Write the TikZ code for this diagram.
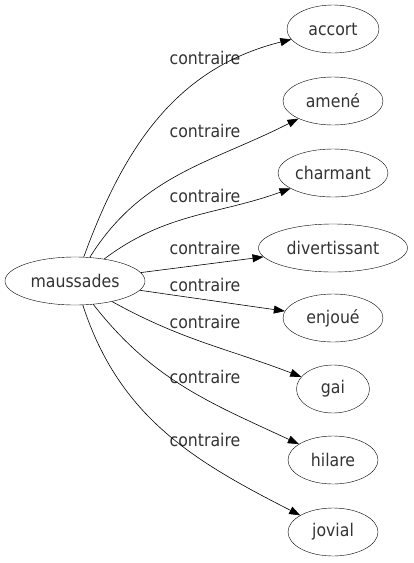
\documentclass[tikz,border=0pt]{standalone}
\usepackage{fontspec}
\setmainfont{DejaVu Sans}[FakeStretch=0.9]
\usetikzlibrary{arrows.meta,shapes.geometric}
\tikzset{
  mot/.style={draw, ellipse, minimum height=48pt, inner sep=0pt, font={\fontsize{17.5}{20}\selectfont}, text=black!80},
  rel/.style={font={\fontsize{17.5}{20}\selectfont}, text=black!80},
  lien/.style={-{Triangle[length=11pt,width=8pt]}, line width=0.6pt}
}
\begin{document}
\begin{tikzpicture}[x=1pt,y=-1pt]
\useasboundingbox (0,0) rectangle (413,563);
\node[mot, minimum width=140pt] (maussades) at (75,281) {maussades};
\node[mot, minimum width=92pt] (accort) at (333,29) {accort};
\node[mot, minimum width=100pt] (amene) at (333,101) {amené};
\node[mot, minimum width=110pt] (charmant) at (333,173) {charmant};
\node[mot, minimum width=149pt] (divertissant) at (333,248) {divertissant};
\node[mot, minimum width=100pt] (enjoue) at (333,318) {enjoué};
\node[mot, minimum width=73pt] (gai) at (333,389) {gai};
\node[mot, minimum width=90pt] (hilare) at (333,460) {hilare};
\node[mot, minimum width=90pt] (jovial) at (333,532) {jovial};
\node[rel] (r1) at (205,58) {contraire};
\node[rel] (r2) at (205,131) {contraire};
\node[rel] (r3) at (205,196) {contraire};
\node[rel] (r4) at (205,248) {contraire};
\node[rel] (r5) at (205,285) {contraire};
\node[rel] (r6) at (205,322) {contraire};
\node[rel] (r7) at (205,377) {contraire};
\node[rel] (r8) at (205,440) {contraire};
\draw[lien] (maussades) to[out=70,in=194] (accort);
\draw[lien] (maussades) to[out=58,in=207] (amene);
\draw[lien] (maussades) to[out=37,in=200] (charmant);
\draw[lien] (maussades) -- (divertissant);
\draw[lien] (maussades) -- (enjoue);
\draw[lien] (maussades) to[out=-29,in=159] (gai);
\draw[lien] (maussades) to[out=-52,in=155] (hilare);
\draw[lien] (maussades) to[out=-72,in=153] (jovial);
\end{tikzpicture}
\end{document}
